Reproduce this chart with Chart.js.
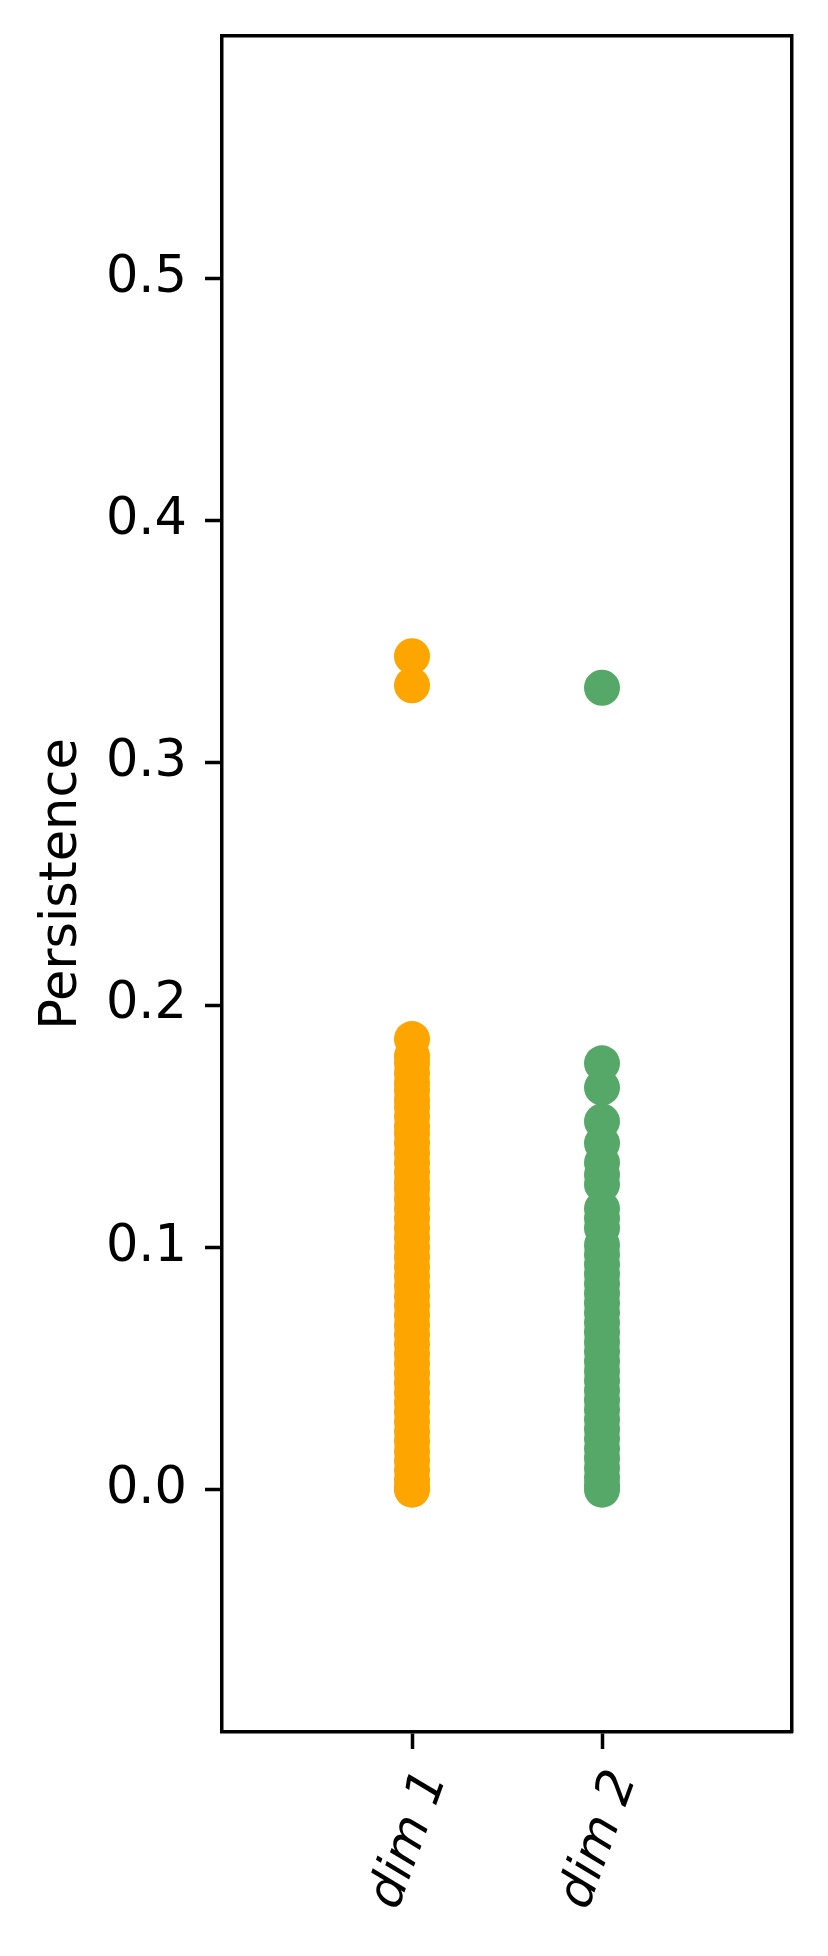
<!DOCTYPE html>
<html>
<head>
<meta charset="utf-8">
<title>Persistence</title>
<script src="https://cdn.jsdelivr.net/npm/chart.js@4.4.1/dist/chart.umd.min.js"></script>
<style>
  html, body { margin: 0; padding: 0; background: #fff; }
  canvas { display: block; }
</style>
</head>
<body>
<canvas id="persistence" width="828" height="1956"></canvas>
<script>
// categories and tick labels
var dims = ["dim 1", "dim 2"];
var xTicks = [0, 1];
var yTicks = [0.0, 0.1, 0.2, 0.3, 0.4, 0.5];

// persistence values (dense columns estimated)
var dim1Values = [0.344, 0.332, 0.186, 0.179, 0.176, 0.172, 0.168, 0.165, 0.161, 0.158,
  0.154, 0.150, 0.147, 0.143, 0.139, 0.135, 0.131, 0.127, 0.124, 0.120, 0.116, 0.112,
  0.108, 0.104, 0.100, 0.096, 0.092, 0.088, 0.084, 0.080, 0.076, 0.072, 0.068, 0.064,
  0.060, 0.056, 0.052, 0.048, 0.044, 0.040, 0.036, 0.032, 0.028, 0.024, 0.020, 0.016,
  0.012, 0.008, 0.004, 0.001, 0.000];
var dim2Values = [0.331, 0.176, 0.166, 0.152, 0.143, 0.135, 0.130, 0.126, 0.116, 0.112,
  0.108, 0.101, 0.097, 0.093, 0.089, 0.085, 0.081, 0.077, 0.073, 0.069, 0.065, 0.061,
  0.057, 0.053, 0.049, 0.045, 0.041, 0.037, 0.033, 0.029, 0.025, 0.021, 0.017, 0.013,
  0.009, 0.005, 0.002, 0.000];

var colors = ["#FFA500", "#55A868"];

var fontFamily = "'DejaVu Sans', sans-serif";

function toPoints(xpos, values) {
  return values.map(function (v) { return { x: xpos, y: v }; });
}

var ctx = document.getElementById("persistence").getContext("2d");
var chart = new Chart(ctx, {
  type: "scatter",
  data: {
    datasets: [{
      label: dims[0],
      data: toPoints(xTicks[0], dim1Values),
      backgroundColor: colors[0],
      borderWidth: 0,
      pointRadius: 18
    },
    {
      label: dims[1],
      data: toPoints(xTicks[1], dim2Values),
      backgroundColor: colors[1],
      borderWidth: 0,
      pointRadius: 18
    }]
  },
  options: {
    responsive: false,
    animation: false,
    devicePixelRatio: 1,
    layout: { padding: { top: 36, right: 36, bottom: 0, left: 0 } },
    plugins: {
      legend: { display: false },
      tooltip: { enabled: false }
    },
    scales: {
      x: {
        type: "linear",
        position: "bottom",
        min: -1,
        max: 2,
        afterBuildTicks: function (scale) {
          scale.ticks = xTicks.map(function (v) { return { value: v }; });
        },
        afterFit: function (scale) {
          scale.height = 224;
          scale.paddingLeft = 0;
          scale.paddingRight = 0;
        },
        ticks: {
          color: "#000",
          font: { family: fontFamily, size: 50, style: "italic" },
          minRotation: 70,
          maxRotation: 70,
          padding: 14,
          labelOffset: 22,
          callback: function (value) { return dims[xTicks.indexOf(value)]; }
        },
        grid: { drawOnChartArea: false, tickLength: 17, tickWidth: 3.5, tickColor: "#000" },
        border: { display: true, color: "#000", width: 3.5 }
      },
      y: {
        type: "linear",
        position: "left",
        min: -0.1,
        max: 0.6,
        afterBuildTicks: function (scale) {
          scale.ticks = yTicks.map(function (v) { return { value: v }; });
        },
        afterFit: function (scale) {
          scale.width = 222;
          scale.paddingTop = 0;
          scale.paddingBottom = 0;
        },
        ticks: {
          color: "#000",
          font: { family: fontFamily, size: 51 },
          padding: 18,
          callback: function (value) { return value.toFixed(1); }
        },
        title: {
          display: true,
          text: "Persistence",
          color: "#000",
          font: { family: fontFamily, size: 51, lineHeight: 1.2 },
          padding: { top: 32, bottom: 0 }
        },
        grid: { drawOnChartArea: false, tickLength: 17, tickWidth: 3.5, tickColor: "#000" },
        border: { display: true, color: "#000", width: 3.5 }
      },
      // top and right frame lines
      x2: {
        type: "linear",
        position: "top",
        min: -1,
        max: 2,
        afterFit: function (scale) { scale.height = 0; },
        ticks: { display: false },
        grid: { drawOnChartArea: false, drawTicks: false },
        border: { display: true, color: "#000", width: 3.5 }
      },
      y2: {
        type: "linear",
        position: "right",
        min: -0.1,
        max: 0.6,
        afterFit: function (scale) { scale.width = 0; },
        ticks: { display: false },
        grid: { drawOnChartArea: false, drawTicks: false },
        border: { display: true, color: "#000", width: 3.5 }
      }
    }
  }
});
</script>
</body>
</html>
